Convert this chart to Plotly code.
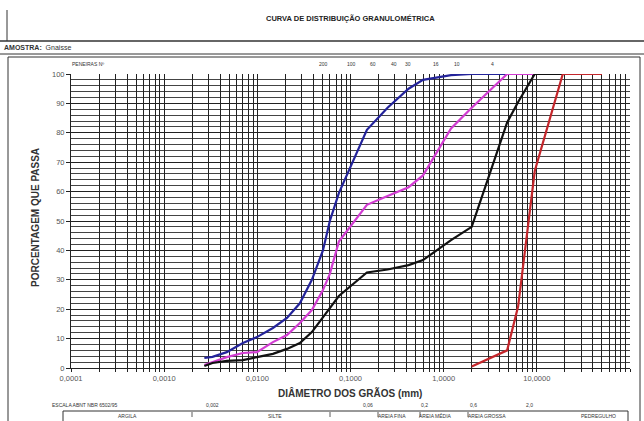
import math
import plotly.graph_objects as go

# ---------------- data ----------------
sed_diam = [0.0027, 0.0033, 0.0047, 0.0070, 0.0099, 0.0147, 0.0208, 0.0286, 0.0385, 0.0506, 0.060]
sieve_diam = [0.075, 0.15, 0.25, 0.42, 0.6, 1.2, 2.0, 4.8, 6.3, 9.5, 19.0, 25.0, 38.0, 50.0]

blue_sed = [3.4, 3.8, 5.4, 8.5, 10.5, 13.6, 17.0, 22.0, 30.0, 40.0, 50.0]
blue_sieve = [59.5, 81.0, 88.5, 95.0, 98.0, 99.6, 100, 100, 100, 100, 100, 100, 100, 100]

magenta_sed = [1.0, 2.0, 3.7, 5.1, 5.4, 8.8, 11.2, 15.3, 19.7, 26.5, 32.0]
magenta_sieve = [43.0, 55.5, 58.5, 61.5, 65.5, 81.5, 88.5, 100, 100, 100, 100, 100, 100, 100]

black_sed = [0.7, 1.7, 2.4, 2.7, 3.7, 4.8, 6.5, 8.5, 12.2, 17.3, 20.7]
black_sieve = [24.5, 32.5, 33.5, 35.0, 36.7, 43.5, 48.0, 83.5, 90.5, 100, 100, 100, 100, 100]

red_diam = [2.0, 4.8, 6.3, 9.5, 19.0, 25.0, 38.0, 50.0]
red_vals = [0.5, 6.0, 21.0, 67.0, 100, 100, 100, 100]

sieve_label_diam = [0.075, 0.15, 0.25, 0.42, 0.6, 1.2, 2.0, 4.8]
sieve_labels = ["200", "100", "60", "40", "30", "16", "10", "4"]

decades = [0.0001, 0.001, 0.01, 0.1, 1, 10, 100]
decade_labels = ["0,0001", "0,0010", "0,0100", "0,1000", "1,0000", "10,0000", "100,0000"]

scale_labels = ["0,002", "0,06", "0,2", "0,6", "2,0"]
class_labels = ["ARGILA", "SILTE", "AREIA FINA", "AREIA MÉDIA", "AREIA GROSSA", "PEDREGULHO"]

# ---------------- layout helpers ----------------
W, H = 644, 421
L, R, T, B = 71, 14, 74, 53
PW, PH = W - L - R, H - T - B


def px(x):
    return (x - L) / PW


def py(y):
    return (H - B - y) / PH


FONT = "Liberation Sans, Arial, sans-serif"

fig = go.Figure()

series = [
    (blue_sed + blue_sieve, "#23239a"),
    (magenta_sed + magenta_sieve, "#d23cd2"),
    (black_sed + black_sieve, "#111111"),
]
for vals, col in series:
    fig.add_trace(go.Scatter(x=sed_diam + sieve_diam, y=vals, mode="lines",
                             line=dict(color=col, width=2.2), showlegend=False))
fig.add_trace(go.Scatter(x=red_diam, y=red_vals, mode="lines",
                         line=dict(color="#c4262b", width=2.2), showlegend=False))

# x grid ticks: 1..9 per decade
xt, xl = [], []
for i, d in enumerate(decades):
    for m in range(1, 10):
        if i == len(decades) - 1 and m > 1:
            break
        xt.append(d * m)
        xl.append(decade_labels[i] if m == 1 else "")

fig.update_xaxes(type="log", range=[-4, 2], tickvals=xt, ticktext=xl,
                 showgrid=True, gridcolor="#222", gridwidth=1,
                 ticks="outside", ticklen=3, tickcolor="#222",
                 showline=True, linecolor="#222", linewidth=1, mirror=False,
                 tickfont=dict(family=FONT, size=7.5, color="#555"), zeroline=False,
                 automargin=False)
fig.update_yaxes(range=[0, 100], dtick=10, showgrid=True, gridcolor="#222", gridwidth=1,
                 minor=dict(dtick=2, showgrid=True, gridcolor="#444", gridwidth=1),
                 ticks="outside", ticklen=4, tickcolor="#222",
                 showline=True, linecolor="#222", linewidth=1,
                 tickfont=dict(family=FONT, size=7.5, color="#555"), zeroline=False,
                 automargin=False)

ann = []
# title and header
ann.append(dict(x=px(350), y=py(18), text="<b>CURVA DE DISTRIBUIÇÃO GRANULOMÉTRICA</b>",
                font=dict(family=FONT, size=7.5, color="#222")))
ann.append(dict(x=px(2), y=py(47), text="<b>AMOSTRA:</b>  Gnaisse", xanchor="left",
                font=dict(family=FONT, size=7, color="#333")))
ann.append(dict(x=px(88), y=py(64), text="PENEIRAS Nº",
                font=dict(family=FONT, size=5, color="#333")))
for d, t in zip(sieve_label_diam, sieve_labels):
    ann.append(dict(x=math.log10(d), xref="x", y=py(64), text=t, xshift=-15,
                    font=dict(family=FONT, size=5, color="#333")))
# axis titles
ann.append(dict(x=px(35), y=py(218), text="<b>PORCENTAGEM QUE PASSA</b>", textangle=-90,
                font=dict(family=FONT, size=10, color="#333")))
ann.append(dict(x=px(350), y=py(393), text="<b>DIÂMETRO DOS GRÃOS (mm)</b>",
                font=dict(family=FONT, size=10, color="#333")))
# scale row
ann.append(dict(x=px(84), y=py(405), text="ESCALA ABNT NBR 6502/95",
                font=dict(family=FONT, size=5, color="#333")))
for xp_, t in zip([212, 368, 424, 474, 529], scale_labels):
    ann.append(dict(x=px(xp_), y=py(405), text=t, font=dict(family=FONT, size=5, color="#333")))
for xp_, t in zip([127, 275, 392, 436, 487, 598], class_labels):
    ann.append(dict(x=px(xp_), y=py(416), text=t, font=dict(family=FONT, size=5, color="#333")))

for a in ann:
    a.setdefault("xref", "paper")
    a["yref"] = "paper"
    a["showarrow"] = False
    a.setdefault("xanchor", "center")
    a["yanchor"] = "middle"

shapes = []
ln = dict(color="#333", width=1)
# frame lines
shapes.append(dict(type="line", x0=px(7), x1=px(7), y0=py(10), y1=py(41), line=ln))
shapes.append(dict(type="line", x0=px(0), x1=px(644), y0=py(41), y1=py(41), line=dict(color="#333", width=1.5)))
shapes.append(dict(type="line", x0=px(0), x1=px(644), y0=py(54), y1=py(54), line=ln))
shapes.append(dict(type="line", x0=px(8), x1=px(640), y0=py(57), y1=py(57), line=ln))
shapes.append(dict(type="line", x0=px(8), x1=px(8), y0=py(57), y1=py(430), line=ln))
shapes.append(dict(type="line", x0=px(640), x1=px(640), y0=py(57), y1=py(430), line=ln))
# class row
shapes.append(dict(type="line", x0=px(63), x1=px(628), y0=py(411), y1=py(411), line=ln))
shapes.append(dict(type="line", x0=px(63), x1=px(63), y0=py(411), y1=py(430), line=ln))
shapes.append(dict(type="line", x0=px(628), x1=px(628), y0=py(411), y1=py(430), line=ln))
for xs in [192, 330, 378, 420, 468]:
    shapes.append(dict(type="line", x0=px(xs), x1=px(xs), y0=py(412), y1=py(417), line=dict(color="#333", width=0.8)))
for s in shapes:
    s["xref"] = "paper"
    s["yref"] = "paper"

fig.update_layout(width=W, height=H, margin=dict(l=L, r=R, t=T, b=B),
                  paper_bgcolor="white", plot_bgcolor="white",
                  annotations=ann, shapes=shapes, showlegend=False,
                  font=dict(family=FONT))

fig.write_html("out.html", config={"displayModeBar": False},
               post_script="document.body.style.margin='0';")
